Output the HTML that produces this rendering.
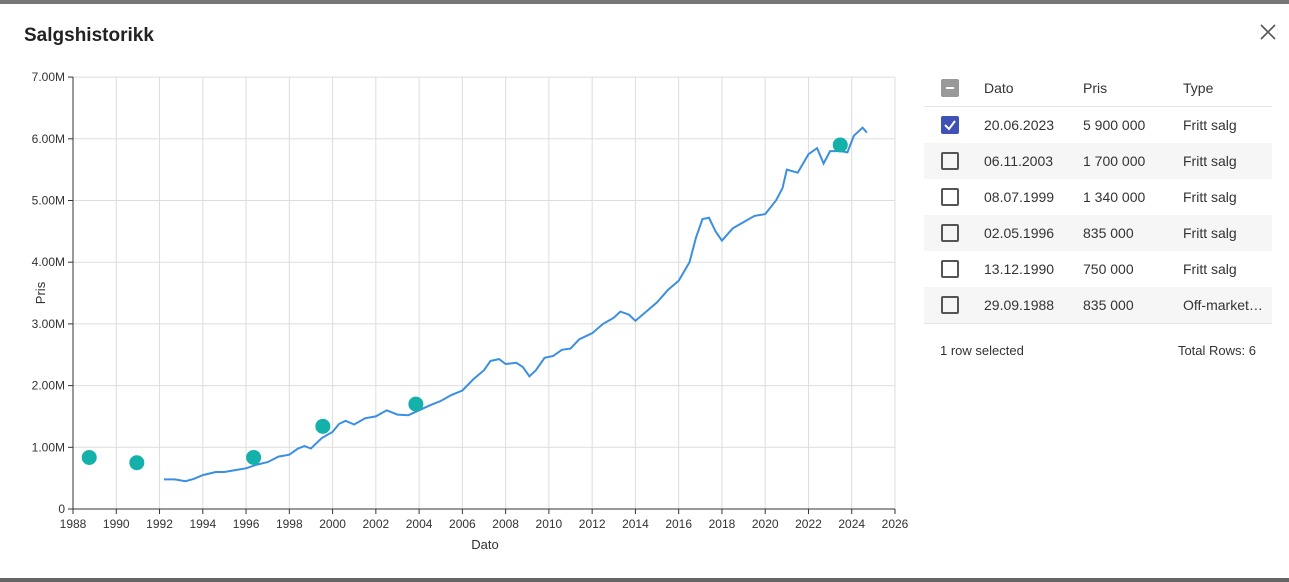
<!DOCTYPE html>
<html><head><meta charset="utf-8"><style>
body{margin:0;width:1289px;height:582px;background:#fff;font-family:"Liberation Sans",sans-serif;position:relative;overflow:hidden;color:#222}
.top{position:absolute;left:0;top:0;width:1289px;height:4px;background:#777}
.bot{position:absolute;left:0;top:578px;width:1289px;height:4px;background:#666}
h1{position:absolute;left:24px;top:25px;margin:0;font-size:19px;font-weight:bold;color:#222}
.tbl{position:absolute;left:924px;top:70px;width:348px;font-size:14px;color:#333}
.row{height:36px;position:relative}
.row span{position:absolute;top:10px}
.alt{background:#f6f6f6}
.cb{position:absolute;left:17px;top:9px;width:14px;height:14px;border:2px solid #555;border-radius:2px}
</style></head><body>
<div class="top"></div><div class="bot"></div>
<h1>Salgshistorikk</h1>
<svg style="position:absolute;left:1260px;top:24px" width="16" height="16"><path d="M1 1L15 15M15 1L1 15" stroke="#555" stroke-width="1.6"/></svg>
<svg id="c" width="920" height="582" style="position:absolute;left:0;top:0" font-family="Liberation Sans, sans-serif"></svg>
<div class="tbl">
<div class="row" style="border-bottom:1px solid #e5e5e5"><div class="cb" style="background:#999;border-color:#999"><div style="position:absolute;left:3px;top:6px;width:8px;height:2px;background:#fff"></div></div><span style="left:60px">Dato</span><span style="left:159px">Pris</span><span style="left:259px">Type</span></div>
<div class="row"><div class="cb" style="background:#3f51b5;border-color:#3f51b5"><svg width="14" height="14" style="position:absolute;left:0;top:0"><path d="M2 7L6 11L12 3" stroke="#fff" stroke-width="2" fill="none"/></svg></div><span style="left:60px">20.06.2023</span><span style="left:159px">5 900 000</span><span style="left:259px">Fritt salg</span></div>
<div class="row alt"><div class="cb"></div><span style="left:60px">06.11.2003</span><span style="left:159px">1 700 000</span><span style="left:259px">Fritt salg</span></div>
<div class="row"><div class="cb"></div><span style="left:60px">08.07.1999</span><span style="left:159px">1 340 000</span><span style="left:259px">Fritt salg</span></div>
<div class="row alt"><div class="cb"></div><span style="left:60px">02.05.1996</span><span style="left:159px">835 000</span><span style="left:259px">Fritt salg</span></div>
<div class="row"><div class="cb"></div><span style="left:60px">13.12.1990</span><span style="left:159px">750 000</span><span style="left:259px">Fritt salg</span></div>
<div class="row alt" style="border-bottom:1px solid #e5e5e5"><div class="cb"></div><span style="left:60px">29.09.1988</span><span style="left:159px">835 000</span><span style="left:259px">Off-market…</span></div>
<div style="position:relative;height:50px;font-size:13px"><span style="position:absolute;left:16px;top:19px">1 row selected</span><span style="position:absolute;right:16px;top:19px">Total Rows: 6</span></div>
</div>
<script>
var s=document.getElementById('c'),h='';
function X(y){return 73+(y-1988)*822/38}function Y(v){return 509-v*61.7}
for(var y=1988;y<=2026;y+=2){var x=X(y);h+='<line x1="'+x+'" y1="77" x2="'+x+'" y2="509" stroke="#ddd"/>';h+='<line x1="'+x+'" y1="509" x2="'+x+'" y2="514" stroke="#333"/><text x="'+x+'" y="528" font-size="12" text-anchor="middle" fill="#333">'+y+'</text>';}
for(var v=0;v<=7;v++){var yy=Y(v);h+='<line x1="73" y1="'+yy+'" x2="895" y2="'+yy+'" stroke="#ddd"/><line x1="68" y1="'+yy+'" x2="73" y2="'+yy+'" stroke="#333"/><text x="65" y="'+(yy+4)+'" font-size="12" text-anchor="end" fill="#333">'+(v?v+'.00M':'0')+'</text>';}
h+='<line x1="73" y1="77" x2="73" y2="509" stroke="#333"/><line x1="73" y1="509" x2="895" y2="509" stroke="#333"/>';
h+='<text x="485" y="549" font-size="13" text-anchor="middle" fill="#333">Dato</text><text transform="translate(45,293) rotate(-90)" font-size="13" text-anchor="middle" fill="#333">Pris</text>';
var d=[1992.2,.48,1992.7,.48,1993.2,.45,1993.6,.49,1994,.55,1994.6,.6,1995,.6,1995.5,.63,1996,.66,1996.5,.72,1997,.76,1997.5,.85,1998,.88,1998.4,.98,1998.7,1.02,1999,.98,1999.5,1.15,2000,1.25,2000.3,1.38,2000.6,1.43,2001,1.37,2001.5,1.47,2002,1.5,2002.5,1.6,2003,1.53,2003.5,1.52,2004,1.6,2004.5,1.68,2005,1.75,2005.5,1.85,2006,1.92,2006.5,2.1,2007,2.25,2007.3,2.4,2007.7,2.43,2008,2.35,2008.5,2.37,2008.8,2.3,2009.1,2.15,2009.4,2.25,2009.8,2.45,2010.2,2.48,2010.6,2.58,2011,2.6,2011.4,2.75,2012,2.85,2012.5,3,2013,3.1,2013.3,3.2,2013.7,3.15,2014,3.05,2014.5,3.2,2015,3.35,2015.5,3.55,2016,3.7,2016.5,4,2016.8,4.4,2017.1,4.7,2017.4,4.72,2017.7,4.5,2018,4.35,2018.5,4.55,2019,4.65,2019.5,4.75,2020,4.78,2020.5,5,2020.8,5.2,2021,5.5,2021.5,5.45,2022,5.75,2022.4,5.85,2022.7,5.6,2023,5.8,2023.5,5.8,2023.8,5.78,2024.1,6.05,2024.5,6.18,2024.7,6.1];
var p='';for(var i=0;i<d.length;i+=2)p+=X(d[i]).toFixed(1)+','+Y(d[i+1]).toFixed(1)+' ';
h+='<polyline points="'+p+'" fill="none" stroke="#3b8fe0" stroke-width="2"/>';
var dots=[1988.75,.835,1990.95,.75,1996.35,.835,1999.55,1.34,2003.85,1.7,2023.47,5.9];
for(var i=0;i<dots.length;i+=2)h+='<circle cx="'+X(dots[i])+'" cy="'+Y(dots[i+1])+'" r="7.5" fill="#14b0aa"/>';
s.innerHTML=h;
</script>
</body></html>
